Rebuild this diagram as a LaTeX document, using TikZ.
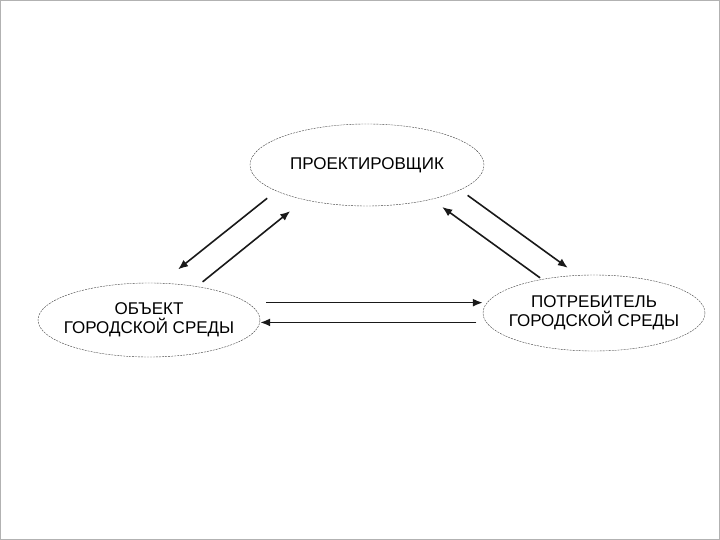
\documentclass[tikz,border=0pt]{standalone}
\usepackage{fontspec}
\setmainfont{Liberation Sans}
\usetikzlibrary{shapes.geometric,arrows.meta}
\begin{document}
\begin{tikzpicture}[x=1pt, y=-1pt,
  role/.style={draw=black!75, ellipse, dash pattern=on 2pt off 1pt, line width=0.4pt, inner sep=0pt, inner xsep=-8pt, align=center, font=\fontsize{17}{18.5}\selectfont},
  msg/.style={-{Latex[length=10pt,width=8pt]}, line width=1.6pt, black!90}
]
\useasboundingbox (0,0) rectangle (720,540);
\draw[gray!60] (0.5,0.5) rectangle (719.5,539.5);
\node[role, minimum width=234pt, minimum height=82pt] (designer) at (367,165) {ПРОЕКТИРОВЩИК};
\node[role, minimum width=222pt, minimum height=74pt] (object) at (149,320) {ОБЪЕКТ\\ГОРОДСКОЙ СРЕДЫ};
\node[role, minimum width=222pt, minimum height=76pt] (user) at (594,313) {ПОТРЕБИТЕЛЬ\\ГОРОДСКОЙ СРЕДЫ};
\draw[msg, shorten <=11.5pt, shorten >=21.8pt] (designer.196) -- (object.72);
\draw[msg, shorten <=7.3pt, shorten >=18pt] (object.35) -- (designer.209);
\draw[msg, shorten <=9.2pt, shorten >=12.5pt] (designer.345) -- (user.113);
\draw[msg, shorten <=2.4pt, shorten >=13pt] (user.147) -- (designer.332);
\draw[msg, shorten <=19pt] (object.10.5) -- (object.10.5 -| user.west);
\draw[msg, shorten <=9.9pt] (user.185) -- (user.185 -| object.east);
\end{tikzpicture}
\end{document}
